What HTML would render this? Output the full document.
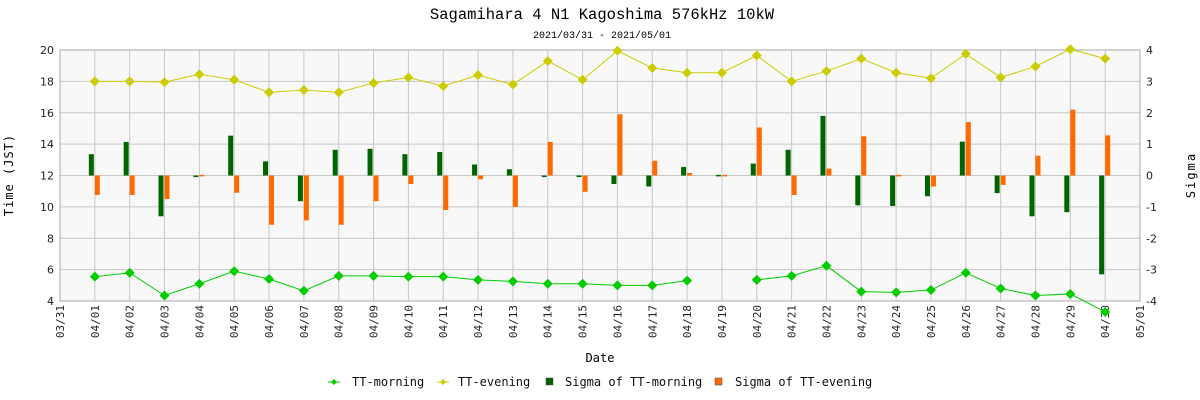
<!DOCTYPE html>
<html><head><meta charset="utf-8">
<style>
html,body{margin:0;padding:0;background:#fff;width:1200px;height:400px;overflow:hidden}
svg{display:block;font-family:"DejaVu Sans Mono","Liberation Mono",monospace}
</style></head>
<body>
<svg id="chart" width="1200" height="400" xmlns="http://www.w3.org/2000/svg">
<text x="602" y="19" text-anchor="middle" font-size="15.5" font-family="Liberation Mono, monospace">Sagamihara 4 N1 Kagoshima 576kHz 10kW</text>
<text x="602" y="38" text-anchor="middle" font-size="10" font-family="Liberation Mono, monospace">2021/03/31 - 2021/05/01</text>
<text transform="translate(13,175) rotate(-90)" text-anchor="middle" font-size="12" letter-spacing="1">Time (JST)</text>
<text transform="translate(1195,175) rotate(-90)" text-anchor="middle" font-size="12" letter-spacing="2">Sigma</text>
<text x="600" y="362" text-anchor="middle" font-size="12">Date</text>
<g id="plot"></g>
<g id="legend"></g>
</svg>
<script>
const dates=["03/31","04/01","04/02","04/03","04/04","04/05","04/06","04/07","04/08","04/09","04/10","04/11","04/12","04/13","04/14","04/15","04/16","04/17","04/18","04/19","04/20","04/21","04/22","04/23","04/24","04/25","04/26","04/27","04/28","04/29","04/30","05/01"];
const morning=[null,5.55,5.8,4.35,5.1,5.9,5.4,4.65,5.6,5.6,5.55,5.55,5.35,5.25,5.1,5.1,5.0,5.0,5.3,null,5.35,5.6,6.25,4.6,4.55,4.7,5.8,4.8,4.35,4.45,3.3,null];
const evening=[null,18.0,18.0,17.95,18.45,18.1,17.3,17.45,17.3,17.9,18.25,17.7,18.4,17.8,19.3,18.1,19.95,18.85,18.55,18.55,19.65,18.0,18.65,19.45,18.55,18.2,19.75,18.25,18.95,20.05,19.45,null];
const sigMorning=[null,0.68,1.07,-1.3,-0.05,1.27,0.45,-0.82,0.82,0.85,0.68,0.75,0.35,0.2,-0.05,-0.05,-0.27,-0.35,0.27,0.02,0.38,0.82,1.9,-0.95,-0.97,-0.66,1.08,-0.56,-1.3,-1.17,-3.15,null];
const sigEvening=[null,-0.62,-0.62,-0.75,0.02,-0.55,-1.57,-1.43,-1.57,-0.82,-0.27,-1.1,-0.12,-1.0,1.07,-0.52,1.95,0.47,0.08,0.02,1.53,-0.62,0.22,1.25,0.02,-0.35,1.7,-0.3,0.63,2.1,1.28,null];
const leftTicks=[4,6,8,10,12,14,16,18,20];
const rightTicks=[-4,-3,-2,-1,0,1,2,3,4];

const L=60,R=1140,T=50,B=301;
const NS="http://www.w3.org/2000/svg";
const g=document.getElementById('plot');
const xs=i=>L+(R-L)*i/(dates.length-1);
const ys=v=>B-(B-T)*(v-4)/16;
const ys2=s=>B-(B-T)*(s+4)/8;
function mk(tag,attrs,parent){const e=document.createElementNS(NS,tag);for(const k in attrs)e.setAttribute(k,attrs[k]);(parent||g).appendChild(e);return e;}

let bg=mk('rect',{x:L,y:T,width:R-L,height:B-T,fill:'#f8f8f8'});


leftTicks.forEach(v=>{
  const y=ys(v);
  let l=mk('line',{x1:L,x2:R,y1:y,y2:y,stroke:'#c8c8c8','stroke-width':1});
  
  
  let t=mk('text',{x:L-6,y:y+4,'text-anchor':'end','font-size':11,fill:'#222','font-family':'DejaVu Sans, sans-serif'});
  t.textContent=v;
  
  
});
rightTicks.forEach(s=>{
  const y=ys2(s);
  let t=mk('text',{x:R+6,y:y+4,'text-anchor':'start','font-size':11,fill:'#222','font-family':'DejaVu Sans, sans-serif'});
  t.textContent=s;
  
  
});
dates.forEach((d,i)=>{
  const x=xs(i);
  let l=mk('line',{x1:x,x2:x,y1:T,y2:B,stroke:'#c8c8c8','stroke-width':1});
  
  
  let t=mk('text',{transform:`translate(${x+4},305) rotate(-90)`,'text-anchor':'end','font-size':11,fill:'#222'});
  t.textContent=d;
  
  
});
let fr=mk('rect',{x:L,y:T,width:R-L,height:B-T,fill:'none',stroke:'#aaa','stroke-width':1});



const y0=ys2(0);
dates.forEach((d,i)=>{
  const x=xs(i);
  if(sigMorning[i]!==null){const y=ys2(sigMorning[i]);
    let b=mk('rect',{x:x-6,y:Math.min(y,y0),width:5,height:Math.max(1.5,Math.abs(y-y0)),fill:'#006400'});
    
    }
  if(sigEvening[i]!==null){const y=ys2(sigEvening[i]);
    let b=mk('rect',{x:x,y:Math.min(y,y0),width:5,height:Math.max(1.5,Math.abs(y-y0)),fill:'#ff6a00'});
    
    }
});
function series(arr,col,name){
  let segs=[],cur=[];
  arr.forEach((v,i)=>{if(v===null){if(cur.length)segs.push(cur);cur=[];}else cur.push([xs(i),ys(v)]);});
  if(cur.length)segs.push(cur);
  segs.forEach(s=>{let p=mk('polyline',{points:s.map(q=>q.join(',')).join(' '),fill:'none',stroke:col,'stroke-width':1});
    
    });
  arr.forEach((v,i)=>{if(v===null)return;const x=xs(i),y=ys(v);
    let m=mk('polygon',{points:`${x},${y-5} ${x+5},${y} ${x},${y+5} ${x-5},${y}`,fill:col});
    
    });
}
series(evening,'#cccc00','evening');
series(morning,'#00cc00','morning');

const lg=document.getElementById('legend');
function ltext(x,s){let t=mk('text',{x:x,y:386,'font-size':12,fill:'#111'},lg);t.textContent=s;return t;}
let a=mk('line',{x1:328,x2:340,y1:382,y2:382,stroke:'#00cc00'},lg);
let a2=mk('polygon',{points:'334,379 337,382 334,385 331,382',fill:'#00cc00'},lg);
let t1=ltext(352,'TT-morning');
let b=mk('line',{x1:437,x2:449,y1:382,y2:382,stroke:'#cccc00'},lg);
let b2=mk('polygon',{points:'443,379 446,382 443,385 440,382',fill:'#cccc00'},lg);
let t2=ltext(458,'TT-evening');
let c=mk('rect',{x:546,y:378,width:7,height:7,fill:'#006400',stroke:'#444','stroke-width':0.5},lg);
let t3=ltext(565,'Sigma of TT-morning');
let d=mk('rect',{x:715,y:378,width:7,height:7,fill:'#ff6a00',stroke:'#444','stroke-width':0.5},lg);
let t4=ltext(735,'Sigma of TT-evening');
</script>
</body></html>
